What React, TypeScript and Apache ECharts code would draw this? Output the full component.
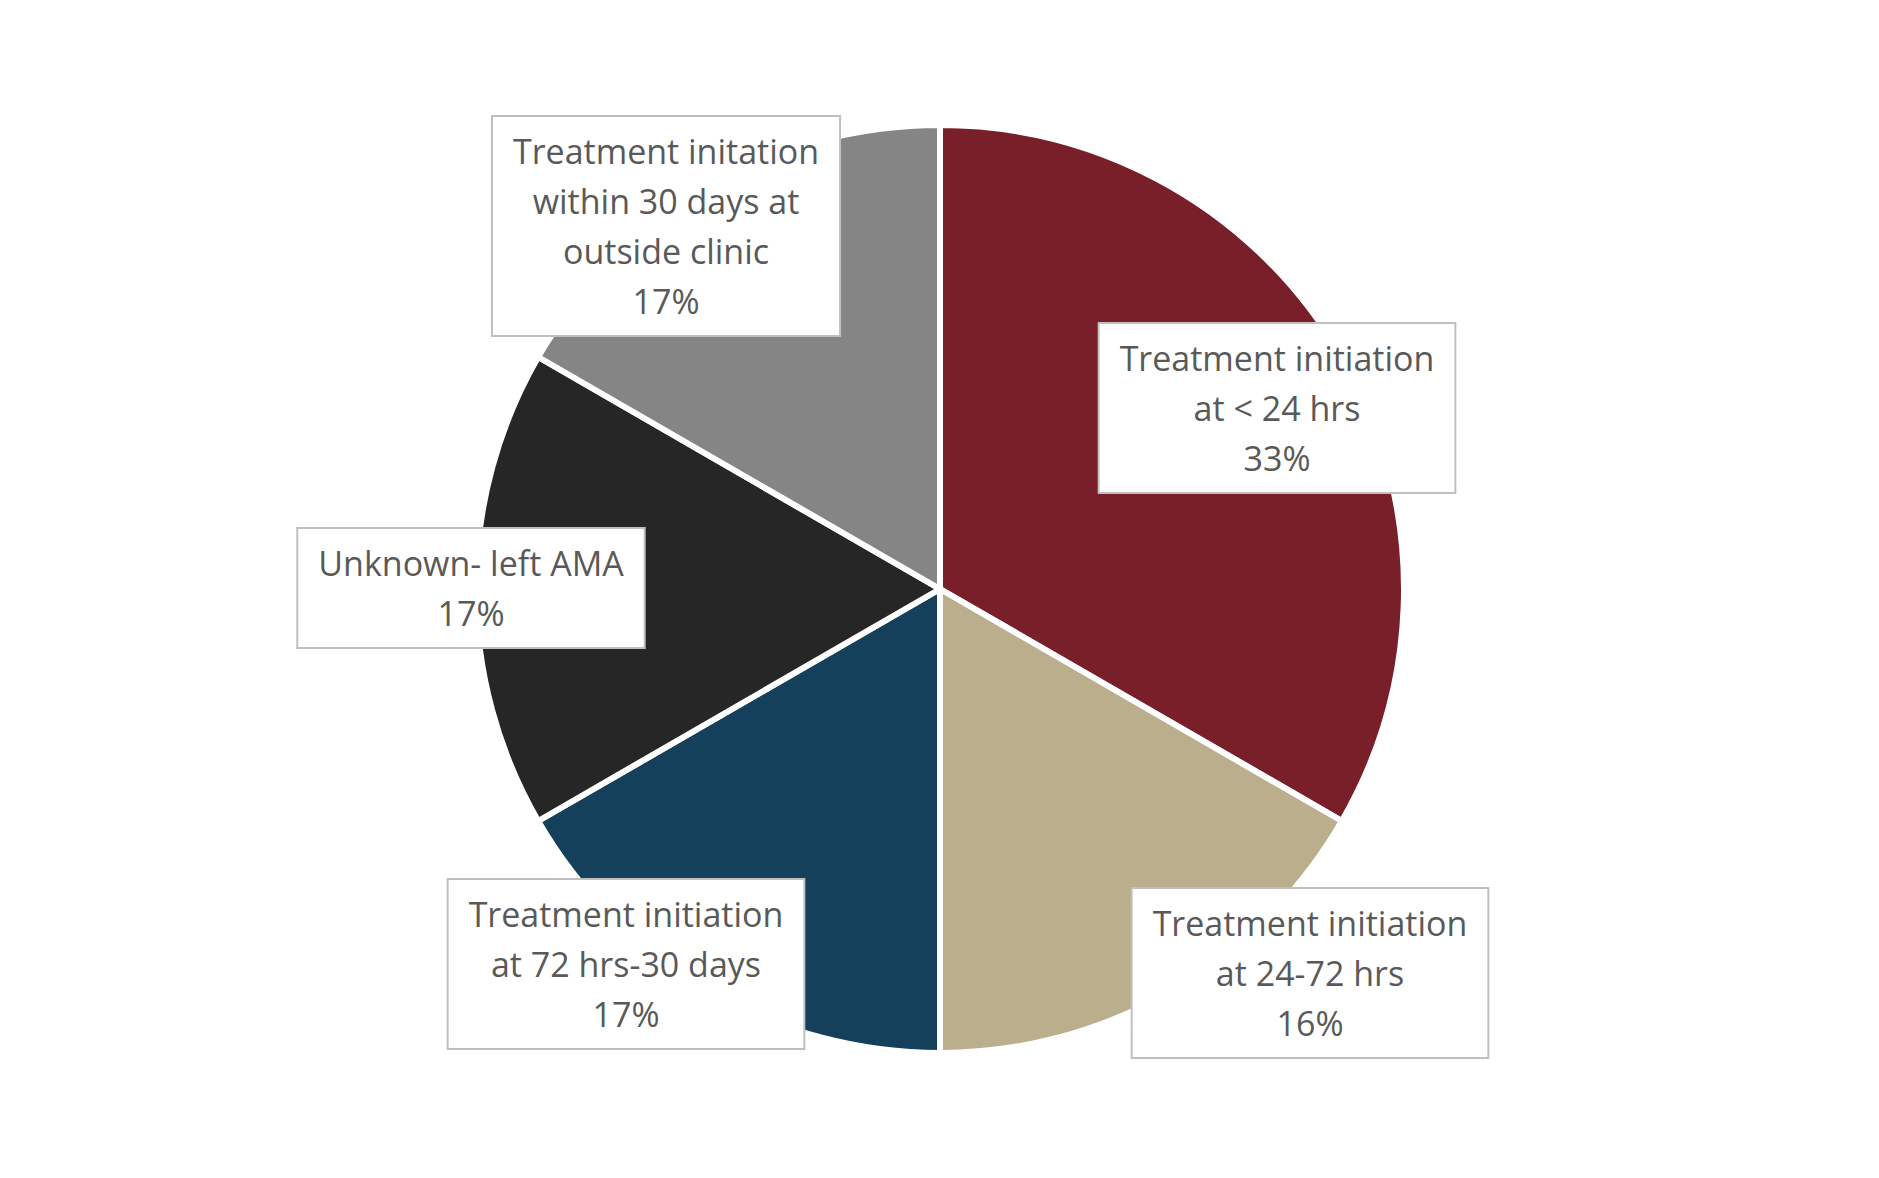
import React, { useEffect, useRef } from "react";
import * as echarts from "echarts";

const categories = [
  "Treatment initiation\nat < 24 hrs",
  "Treatment initiation\nat 24-72 hrs",
  "Treatment initiation\nat 72 hrs-30 days",
  "Unknown- left AMA",
  "Treatment initation\nwithin 30 days at\noutside clinic",
];
// slice sizes (120°, 60°, 60°, 60°, 60°)
const sliceValues = [2, 1, 1, 1, 1];
// percentages as printed in the labels
const percentLabels = ["33%", "16%", "17%", "17%", "17%"];

const colors = ["#781F29", "#BBAE8C", "#15405B", "#262626", "#858585"];
// label box centres (style only)
const labelCenters = [
  [1277, 408],
  [1310, 973],
  [626, 964],
  [471, 588],
  [666, 226],
];

export default function App() {
  const ref = useRef<HTMLDivElement>(null);
  useEffect(() => {
    if (!ref.current) return;
    const chart = echarts.init(ref.current, null, { renderer: "svg" });
    chart.setOption({
      animation: false,
      backgroundColor: "#ffffff",
      series: [
        {
          type: "pie",
          center: [940, 589],
          radius: [0, 464],
          startAngle: 90,
          clockwise: true,
          avoidLabelOverlap: false,
          itemStyle: { borderColor: "#ffffff", borderWidth: 6 },
          emphasis: { disabled: true },
          labelLine: { show: false },
          label: {
            show: true,
            formatter: (p: any) => `${p.name}\n${percentLabels[p.dataIndex]}`,
            fontFamily: "Open Sans",
            fontSize: 34,
            lineHeight: 50,
            color: "#595959",
            align: "center",
            backgroundColor: "#ffffff",
            borderColor: "#BFBFBF",
            borderWidth: 2,
            padding: [9, 20, 9, 20],
          },
          labelLayout: (params: any) => {
            const c = labelCenters[params.dataIndex];
            return {
              x: c[0],
              y: c[1],
              align: "center",
              verticalAlign: "middle",
              hideOverlap: false,
            };
          },
          data: categories.map((name, i) => ({
            name,
            value: sliceValues[i],
            itemStyle: { color: colors[i] },
          })),
        },
      ],
    });
    return () => chart.dispose();
  }, []);
  return (
    <div
      ref={ref}
      style={{ position: "absolute", left: 0, top: 0, width: 1879, height: 1178 }}
    />
  );
}
